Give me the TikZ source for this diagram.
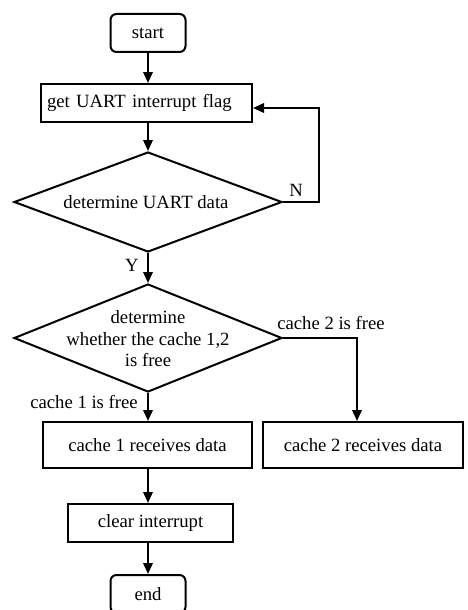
\documentclass[tikz,border=0pt]{standalone}
\usepackage{fontspec}
\setmainfont{Liberation Serif}
\usetikzlibrary{shapes.geometric,arrows.meta,calc}
\tikzset{
  every node/.style={font=\fontsize{18.7}{21.5}\selectfont},
  box/.style={draw,line width=2pt,rectangle,inner sep=0pt},
  term/.style={draw,line width=2pt,rectangle,rounded corners=6pt,inner sep=0pt,minimum width=75pt,minimum height=38pt},
  dec/.style={draw,line width=2pt,diamond,inner sep=0pt},
  arr/.style={line width=2pt,-{Triangle[length=11pt,width=9.5pt]}},
  lbl/.style={inner sep=0pt}
}
\begin{document}
\begin{tikzpicture}[x=1pt,y=-1pt]
\useasboundingbox (0,0) rectangle (467,610);
\clip (0,0) rectangle (467,610);
\fill[white] (0,0) rectangle (467,610);

\node[term] (start) at (148,33) {start};
\node[box,minimum height=38pt,text width=199pt,inner xsep=6pt,align=left] (get) at (146.5,103) {get UART interrupt flag};
\node[dec,minimum width=268pt,minimum height=100pt] (d1) at (148,202) {};
\node[lbl] (d1t) at (146,202) {determine UART data};
\node[dec,minimum width=268pt,minimum height=108pt] (d2) at (148,338) {};
\node[lbl,align=center] (d2t) at (148,339) {determine\\whether the cache 1,2\\is free};
\node[box,minimum width=209pt,minimum height=46pt] (c1) at (147.5,445) {cache 1 receives data};
\node[box,minimum width=200pt,minimum height=46pt] (c2) at (363,445) {cache 2 receives data};
\node[box,minimum width=165pt,minimum height=38pt] (clr) at (150.5,523) {clear interrupt};
\node[term] (end) at (148,594) {end};

\coordinate (fb) at (319,108);
\coordinate (k2) at (357,338);

\draw[arr] (start.south) -- (start.south |- get.north);
\draw[arr] (d1.north |- get.south) -- (d1.north);
\draw[arr] (d1.east) -- (fb |- d1.east) -- (fb) -- (fb -| get.east);
\draw[arr] (d1.south) -- (d2.north);
\draw[arr] (d2.south) -- (d2.south |- c1.north);
\draw[arr] (d2.east) -- (k2) -- (k2 |- c2.north);
\draw[arr] (d2.south |- c1.south) -- (d2.south |- clr.north);
\draw[arr] (d2.south |- clr.south) -- (end.north);

\node[lbl] (nN) at (296,190) {N};
\node[lbl] (nY) at (132,265) {Y};
\node[lbl] (n2) at (331,323) {cache 2 is free};
\node[lbl] (n1) at (84,402) {cache 1 is free};
\end{tikzpicture}
\end{document}
